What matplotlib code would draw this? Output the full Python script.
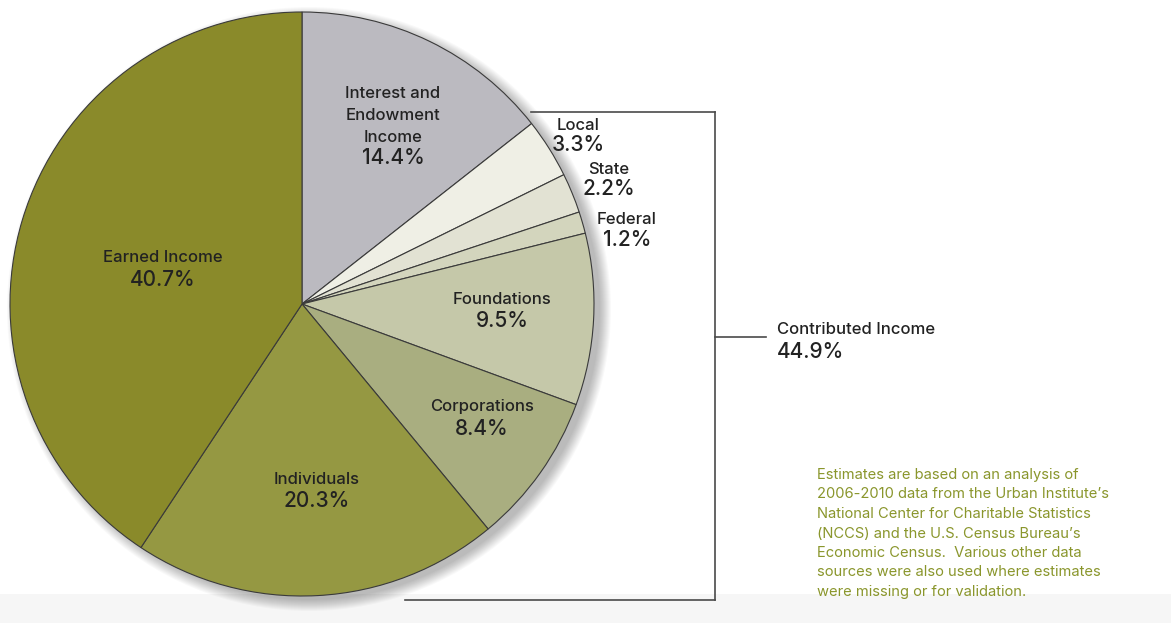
import matplotlib
matplotlib.use("Agg")
import matplotlib.pyplot as plt
from matplotlib.patches import Circle, Rectangle

# slices, clockwise from the top
labels = ["Interest and\nEndowment\nIncome", "Local", "State", "Federal",
          "Foundations", "Corporations", "Individuals", "Earned Income"]
values = [14.4, 3.3, 2.2, 1.2, 9.5, 8.4, 20.3, 40.7]
colors = ["#bbbac0", "#efefe5", "#e2e2d3", "#d3d5bd",
          "#c5c8a9", "#a9ae80", "#959842", "#8a8a2a"]
contributed_label = "Contributed Income"
contributed_value = 44.9
note_lines = ["Estimates are based on an analysis of",
              "2006-2010 data from the Urban Institute\u2019s",
              "National Center for Charitable Statistics",
              "(NCCS) and the U.S. Census Bureau\u2019s",
              "Economic Census.  Various other data",
              "sources were also used where estimates",
              "were missing or for validation."]

W, H = 1171, 623
plt.rcParams['font.family'] = ['Inter', 'DejaVu Sans']

fig = plt.figure(figsize=(W / 100, H / 100), dpi=100)
ax = fig.add_axes([0, 0, 1, 1])

cx, cy, r = 302, H - 304, 292

# light band at the bottom
ax.add_patch(Rectangle((0, 0), W, H - 594, color="#f6f6f6", lw=0, zorder=0))

# soft shadow on the right of the pie
for i in range(12):
    ax.add_patch(Circle((cx + 7, cy - 5), r + 10 - i, color="#000000",
                        alpha=0.022, lw=0, zorder=1))

wedges, _ = ax.pie(values, colors=colors, startangle=90, counterclock=False,
                   center=(cx, cy), radius=r,
                   wedgeprops=dict(edgecolor="#3a3a3a", linewidth=0.8))
for w in wedges:
    w.set_zorder(2)

# label positions (pixel coords from top-left): x, first name line y, value line y
label_pos = [(393, 93, 158), (578, 125, 145), (609, 169, 189), (627, 219, 240),
             (502, 299, 321), (482, 407, 429), (317, 479, 501), (163, 258, 280)]
txt = "#222222"
for lab, val, (x, y1, y2) in zip(labels, values, label_pos):
    for i, line in enumerate(lab.split("\n")):
        ax.text(x, H - (y1 + i * 22), line, ha="center", va="center",
                fontsize=12, fontweight="medium", color=txt, zorder=5)
    ax.text(x, H - y2, f"{val}%", ha="center", va="center", fontsize=15,
            fontweight="medium", color=txt, zorder=5)

# bracket for contributed income
lc = "#4a4a4a"
ax.plot([531, 715], [H - 112, H - 112], color=lc, lw=1.2, zorder=4)
ax.plot([715, 715], [H - 112, H - 600], color=lc, lw=1.2, zorder=4)
ax.plot([405, 715], [H - 600, H - 600], color=lc, lw=1.2, zorder=4)
ax.plot([715, 766], [H - 337, H - 337], color=lc, lw=1.2, zorder=4)
ax.text(777, H - 329, contributed_label, ha="left", va="center", fontsize=12,
        fontweight="medium", color=txt)
ax.text(777, H - 352, f"{contributed_value}%", ha="left", va="center", fontsize=15,
        fontweight="medium", color=txt)

for i, line in enumerate(note_lines):
    ax.text(817, H - (475 + i * 19.5), line, ha="left", va="center",
            fontsize=10.6, color="#8a962c")

ax.set_xlim(0, W)
ax.set_ylim(0, H)
ax.set_aspect("auto")
ax.axis("off")

fig.savefig("out.png", dpi=100)
